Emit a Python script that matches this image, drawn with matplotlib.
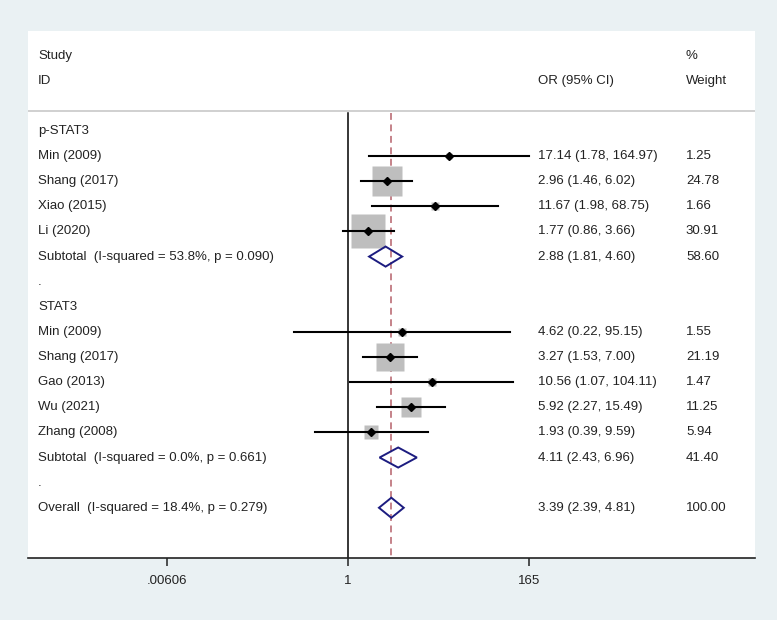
import numpy as np
import matplotlib.pyplot as plt
from matplotlib.transforms import blended_transform_factory
from matplotlib.patches import Polygon

plt.rcParams['font.family'] = ['Liberation Sans', 'DejaVu Sans']

# data
grp1_name = "p-STAT3"
grp1_study = ["Min (2009)", "Shang (2017)", "Xiao (2015)", "Li (2020)"]
grp1_or = [17.14, 2.96, 11.67, 1.77]
grp1_lo = [1.78, 1.46, 1.98, 0.86]
grp1_hi = [164.97, 6.02, 68.75, 3.66]
grp1_w = [1.25, 24.78, 1.66, 30.91]
grp1_sub = [2.88, 1.81, 4.60, 58.60]
grp1_het = "Subtotal  (I-squared = 53.8%, p = 0.090)"

grp2_name = "STAT3"
grp2_study = ["Min (2009)", "Shang (2017)", "Gao (2013)", "Wu (2021)", "Zhang (2008)"]
grp2_or = [4.62, 3.27, 10.56, 5.92, 1.93]
grp2_lo = [0.22, 1.53, 1.07, 2.27, 0.39]
grp2_hi = [95.15, 7.00, 104.11, 15.49, 9.59]
grp2_w = [1.55, 21.19, 1.47, 11.25, 5.94]
grp2_sub = [4.11, 2.43, 6.96, 41.40]
grp2_het = "Subtotal  (I-squared = 0.0%, p = 0.661)"

overall = [3.39, 2.39, 4.81, 100.00]
overall_het = "Overall  (I-squared = 18.4%, p = 0.279)"

xticks = [0.00606, 1, 165]
xticklabels = [".00606", "1", "165"]

W, H = 777, 620
fig = plt.figure(figsize=(W / 100, H / 100), dpi=100)
fig.patch.set_facecolor('#EAF1F3')
ax = fig.add_axes([28 / W, (H - 558) / H, 727 / W, (558 - 30.5) / H])
ax.set_facecolor('white')
ax.set_xscale('log')
ax.set_xlim(np.exp(-9.03), np.exp(11.48))
ax.set_ylim(17, -4)
for s in ['top', 'left', 'right']:
    ax.spines[s].set_visible(False)
ax.spines['bottom'].set_linewidth(1.2)
ax.spines['bottom'].set_color('#222222')
ax.set_yticks([])
ax.set_xticks(xticks)
ax.set_xticklabels(xticklabels)
ax.minorticks_off()
ax.tick_params(axis='x', length=6, width=1.1, color='#222222', labelsize=9.5,
               labelcolor='#222222', pad=6)

tr = blended_transform_factory(ax.transAxes, ax.transData)
fs = 9.5
tc = '#222222'
x_lab, x_or, x_w = 0.0138, 0.7015, 0.905

# header
ax.text(x_lab, -3, "Study", transform=tr, fontsize=fs, color=tc, va='center')
ax.text(x_lab, -2, "ID", transform=tr, fontsize=fs, color=tc, va='center')
ax.text(x_or, -2, "OR (95% CI)", transform=tr, fontsize=fs, color=tc, va='center')
ax.text(x_w, -3, "%", transform=tr, fontsize=fs, color=tc, va='center')
ax.text(x_w, -2, "Weight", transform=tr, fontsize=fs, color=tc, va='center')
ax.axhline(-0.8, color='#C8C8C8', lw=1.2)

# reference lines
ax.plot([1, 1], [-0.7, 17], color='black', lw=1.1, zorder=1)
ax.plot([overall[0]] * 2, [-0.7, 17], color='#B5606A', lw=1.1,
        dashes=(4.5, 3), zorder=1)


def study_row(y, name, est, lo, hi, w):
    ax.text(x_lab, y, name, transform=tr, fontsize=fs, color=tc, va='center')
    ax.plot([est], [y], marker='s', ms=4.34 * np.sqrt(w), color='#BEBEBE',
            mec='none', ls='none', zorder=2)
    ax.plot([lo, hi], [y, y], color='black', lw=1.5, zorder=3)
    ax.plot([est], [y], marker='D', ms=3.6, color='black', ls='none', zorder=4)
    ax.text(x_or, y, "%.2f (%.2f, %.2f)" % (est, lo, hi), transform=tr,
            fontsize=fs, color=tc, va='center')
    ax.text(x_w, y, "%.2f" % w, transform=tr, fontsize=fs, color=tc, va='center')


def pooled_row(y, label, vals):
    est, lo, hi, w = vals
    ax.text(x_lab, y, label, transform=tr, fontsize=fs, color=tc, va='center')
    h = 0.4
    ax.add_patch(Polygon([(lo, y), (est, y - h), (hi, y), (est, y + h)],
                         closed=True, fill=False, ec='#1C1C80', lw=1.4, zorder=5))
    ax.text(x_or, y, "%.2f (%.2f, %.2f)" % (est, lo, hi), transform=tr,
            fontsize=fs, color=tc, va='center')
    ax.text(x_w, y, "%.2f" % w, transform=tr, fontsize=fs, color=tc, va='center')


y = 0
ax.text(x_lab, y, grp1_name, transform=tr, fontsize=fs, color=tc, va='center')
for i in range(len(grp1_study)):
    y += 1
    study_row(y, grp1_study[i], grp1_or[i], grp1_lo[i], grp1_hi[i], grp1_w[i])
y += 1
pooled_row(y, grp1_het, grp1_sub)
y += 1
ax.text(x_lab, y, ".", transform=tr, fontsize=fs, color=tc, va='center')
y += 1
ax.text(x_lab, y, grp2_name, transform=tr, fontsize=fs, color=tc, va='center')
for i in range(len(grp2_study)):
    y += 1
    study_row(y, grp2_study[i], grp2_or[i], grp2_lo[i], grp2_hi[i], grp2_w[i])
y += 1
pooled_row(y, grp2_het, grp2_sub)
y += 1
ax.text(x_lab, y, ".", transform=tr, fontsize=fs, color=tc, va='center')
y += 1
pooled_row(y, overall_het, overall)

fig.savefig("out.png", dpi=100, facecolor=fig.get_facecolor())
